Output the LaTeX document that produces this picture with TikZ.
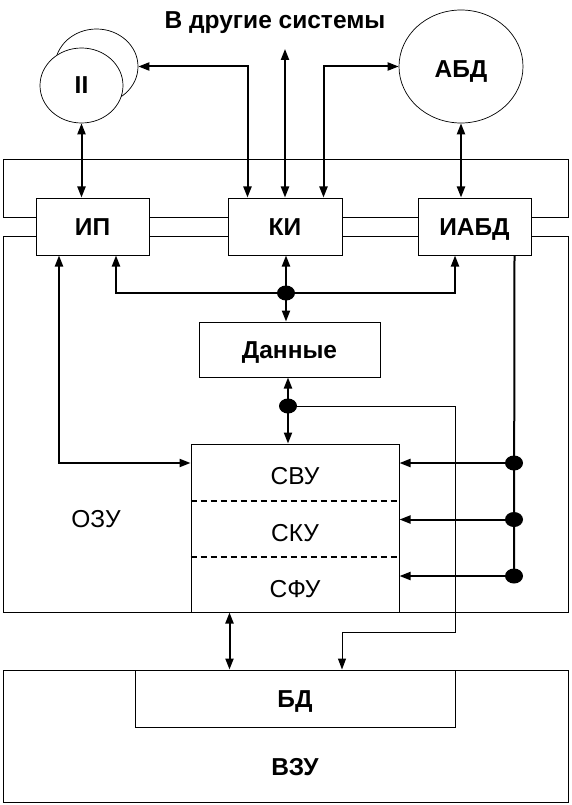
\documentclass[tikz,border=0pt]{standalone}
\usepackage{fontspec}
\setmainfont{Liberation Sans}
\usetikzlibrary{arrows.meta,shapes.geometric}
\newcommand{\lbl}{\fontsize{24.5}{28}\selectfont}

\begin{document}
\begin{tikzpicture}[x=1pt,y=-1pt,
      txt/.style={font=\lbl,text height=17.5pt,text depth=0pt,inner sep=0pt},
      bold/.style={txt,font=\lbl\bfseries},
      blk/.style={draw,fill=white,line width=1pt,inner sep=0pt,font=\lbl\bfseries,
                  text height=17.5pt,text depth=0pt},
      frame/.style={draw,line width=1pt,inner sep=0pt},
      oval/.style={ellipse,draw,fill=white,line width=0.7pt,inner sep=0pt},
      junc/.style={ellipse,fill=black,inner sep=0pt,minimum width=18pt,minimum height=15pt},
      bus/.style={{Triangle[length=11pt,width=8pt]}-{Triangle[length=11pt,width=8pt]},line width=2pt},
      feed/.style={-{Triangle[length=11pt,width=8pt]},line width=2pt},
      wire/.style={line width=2pt},
      thinfeed/.style={-{Triangle[length=11pt,width=8pt]},line width=1pt},
      sep/.style={line width=1.3pt,dash pattern=on 6pt off 4pt}]
    \useasboundingbox (0,0) rectangle (571,805);

    % ---- frames: interface band, ОЗУ, ВЗУ ------------------------------
    \node[frame,minimum width=565pt,minimum height=57pt] (band) at (285.5,188.5) {};
    \node[frame,minimum width=565pt,minimum height=376pt] (ozu) at (285.5,424) {};
    \node[frame,minimum width=565pt,minimum height=132pt] (vzu) at (285.5,736) {};
    \node[txt] (ozul) at (96,518.5) {ОЗУ};
    \node[bold] (vzul) at (295,767) {ВЗУ};

    % ---- outer systems ---------------------------------------------------
    \node[bold] (title) at (275,19.5) {В другие системы};
    \coordinate (sys) at (285,49);
    \node[oval,minimum width=83pt,minimum height=75pt] (ii2) at (96.5,66.5) {};
    \node[oval,minimum width=83pt,minimum height=75pt] (ii) at (81.5,85.5) {};
    \node[bold] (iil) at (81.5,85) {II};
    \node[oval,minimum width=124pt,minimum height=113pt] (abd) at (461,66.5) {};
    \node[bold] (abdl) at (461,69) {АБД};

    % ---- interfaces ------------------------------------------------------
    \node[blk,minimum width=113pt,minimum height=57pt] (ip) at (92.5,226.5) {ИП};
    \node[blk,minimum width=114pt,minimum height=57pt] (ki) at (285,226.5) {КИ};
    \node[blk,minimum width=113pt,minimum height=57pt] (iabd) at (474.5,226.5) {ИАБД};

    % ---- data and segments -----------------------------------------------
    \node[blk,minimum width=181pt,minimum height=55pt] (dat) at (289.5,349.5) {Данные};
    \node[blk,minimum width=208pt,minimum height=168pt] (stk) at (295,528) {};
    \draw[sep] (stk.west |- 0,501) -- (stk.east |- 0,501);
    \draw[sep] (stk.west |- 0,557) -- (stk.east |- 0,557);
    \node[txt] (svu) at (295,476) {СВУ};
    \node[txt] (sku) at (295,532.5) {СКУ};
    \node[txt] (sfu) at (295,589) {СФУ};
    \node[blk,minimum width=320pt,minimum height=57pt] (bd) at (295,698.5) {БД};

    % ---- links to outer systems ------------------------------------------
    \draw[bus] (ii2.east) -| ([xshift=20pt]ki.north west);
    \draw[bus] (sys) -- (sys |- ki.north);
    \draw[bus] ([xshift=-19pt]ki.north east) |- (abd.west);
    \draw[bus] (ii.south) -- (ii.south |- ip.north);
    \draw[bus] (abd.south) -- (abd.south |- iabd.north);

    % ---- internal bus ----------------------------------------------------
    \coordinate (d1) at (286,293);
    \coordinate (d2) at (288,406);
    \coordinate (d3) at (514,463);
    \coordinate (d4) at (514,519.5);
    \coordinate (d5) at (514,576);
    \coordinate (bend) at (455,632);
    \draw[bus] ([xshift=23.5pt]ip.south) |- (d1) -| ([xshift=-19.5pt]iabd.south);
    \draw[feed] (d1) -- (d1 |- ki.south);
    \draw[feed] (d1) -- (d1 |- dat.north);
    \draw[bus] (d2 |- dat.south) -- (d2 |- stk.north);
    \draw[thinfeed] (d2) -- (d2 -| bend) -- (bend) -| ([xshift=47pt]bd.north);
    \draw[bus] ([xshift=-33.5pt]ip.south) |- (stk.west |- d3);
    \draw[wire] ([xshift=-17pt]iabd.south east) -- (d5);
    \foreach \d in {d3,d4,d5}
      \draw[feed] (\d) -- (\d -| stk.east);
    \draw[bus] ([xshift=39pt]stk.south west) -- ([xshift=39pt]stk.south west |- vzu.north);
    \foreach \d in {d1,d2,d3,d4,d5}
      \node[junc] at (\d) {};
  \end{tikzpicture}
\end{document}
